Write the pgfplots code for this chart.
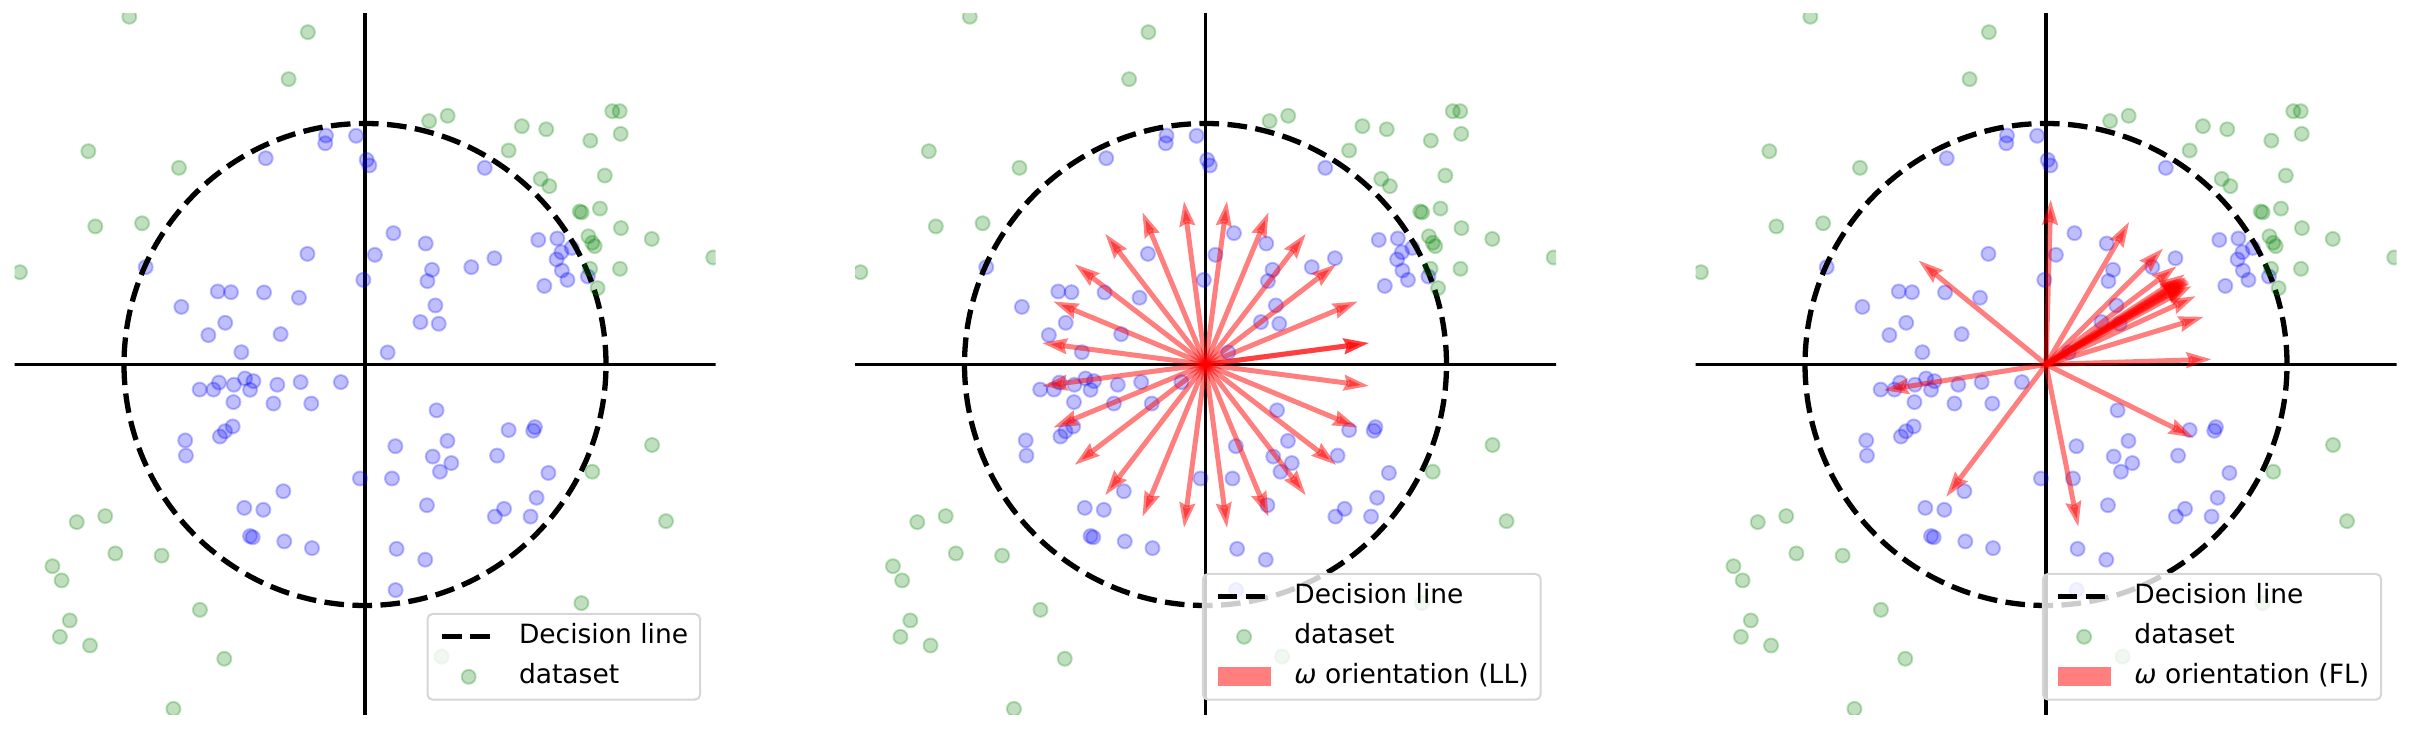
\documentclass[border=0pt]{standalone}
\usepackage{fontspec}
\setmainfont{DejaVu Sans}
\usepackage{pgfplots}
\usepackage{pgfplotstable}
\pgfplotsset{compat=1.18}
\usetikzlibrary{arrows.meta}
\definecolor{mblue}{RGB}{0,0,255}
\definecolor{mgreen}{RGB}{0,128,0}
\definecolor{mred}{RGB}{255,0,0}

\pgfplotstableread{
x y
-0.162 0.950
-0.165 0.918
-0.037 0.949
0.007 0.849
0.018 0.826
-0.412 0.856
-0.910 0.404
-0.239 0.459
-0.007 0.351
0.041 0.455
-0.611 0.303
-0.556 0.300
-0.419 0.299
-0.274 0.277
-0.762 0.239
-0.580 0.173
-0.650 0.122
-0.350 0.126
-0.513 0.051
0.497 0.816
0.118 0.545
0.252 0.502
0.719 0.517
0.798 0.523
0.858 0.484
0.815 0.466
0.795 0.436
0.537 0.441
0.441 0.404
0.278 0.393
0.259 0.346
0.817 0.390
0.840 0.351
0.744 0.326
0.925 0.365
0.292 0.245
0.230 0.176
0.306 0.169
0.094 0.050
-0.686 -0.104
-0.629 -0.104
-0.606 -0.075
-0.544 -0.084
-0.498 -0.058
-0.463 -0.069
-0.477 -0.105
-0.364 -0.084
-0.267 -0.073
-0.100 -0.073
-0.546 -0.156
-0.380 -0.162
-0.223 -0.162
-0.549 -0.257
-0.581 -0.277
-0.602 -0.299
-0.746 -0.315
-0.743 -0.378
-0.021 -0.473
-0.339 -0.526
-0.501 -0.595
-0.422 -0.603
-0.477 -0.712
-0.466 -0.717
-0.335 -0.734
-0.220 -0.762
0.297 -0.190
0.126 -0.339
0.342 -0.317
0.281 -0.382
0.358 -0.409
0.311 -0.445
0.112 -0.473
0.596 -0.272
0.705 -0.260
0.698 -0.275
0.548 -0.378
0.761 -0.450
0.712 -0.553
0.577 -0.599
0.539 -0.631
0.687 -0.631
0.257 -0.584
0.131 -0.765
0.250 -0.810
0.127 -0.936
}\bluedata

\pgfplotstableread{
x y
-0.978 1.443
-0.237 1.379
-0.317 1.184
-1.148 0.885
-0.772 0.816
-1.119 0.573
-0.925 0.586
-1.432 0.383
-1.46 0.102
0.266 1.010
0.343 1.032
0.651 0.989
0.752 0.976
1.026 1.051
1.057 1.051
1.061 0.957
0.935 0.929
0.596 0.888
0.995 0.784
0.729 0.770
0.765 0.740
0.891 0.635
0.899 0.631
0.975 0.647
1.062 0.566
1.190 0.521
0.927 0.532
0.943 0.505
0.953 0.491
1.445 0.444
0.934 0.397
1.058 0.397
0.965 0.317
-1.196 -0.654
-1.078 -0.629
-1.036 -0.784
-0.844 -0.793
-1.297 -0.837
-1.259 -0.896
-0.685 -1.018
-1.225 -1.062
-1.266 -1.130
-1.141 -1.166
-0.584 -1.221
-0.795 -1.429
1.191 -0.334
0.943 -0.445
1.46 -0.582
1.249 -0.650
0.898 -0.990
0.318 -1.212
0.436 -1.455
}\greendata

\pgfplotstableread{
x y u v
0 0 0.6791 0.0894
0 0 0.6791 0.0894
0 0 0.6329 0.2621
0 0 0.5434 0.4170
0 0 0.4170 0.5434
0 0 0.2621 0.6329
0 0 0.0894 0.6791
0 0 -0.0894 0.6791
0 0 -0.2621 0.6329
0 0 -0.4170 0.5434
0 0 -0.5434 0.4170
0 0 -0.6329 0.2621
0 0 -0.6791 0.0894
0 0 -0.6791 -0.0894
0 0 -0.6329 -0.2621
0 0 -0.5434 -0.4170
0 0 -0.4170 -0.5434
0 0 -0.2621 -0.6329
0 0 -0.0894 -0.6791
0 0 0.0894 -0.6791
0 0 0.2621 -0.6329
0 0 0.4170 -0.5434
0 0 0.5434 -0.4170
0 0 0.6329 -0.2621
0 0 0.6791 -0.0894
}\llarrows

\pgfplotstableread{
x y u v
0 0 0.0195 0.6855
0 0 0.3456 0.5925
0 0 0.4867 0.4822
0 0 0.5423 0.4087
0 0 0.5768 0.3743
0 0 0.5809 0.3630
0 0 0.5840 0.3579
0 0 0.5872 0.3528
0 0 0.5902 0.3476
0 0 0.5932 0.3425
0 0 0.5962 0.3373
0 0 0.6046 0.3257
0 0 0.6224 0.2842
0 0 0.6556 0.1983
0 0 0.6876 0.0216
0 0 0.6141 -0.3037
0 0 0.1340 -0.6743
0 0 -0.4149 -0.5498
0 0 -0.6751 -0.1071
0 0 -0.5299 0.4324
}\flarrows

\tikzset{
  dline/.style={black, line width=2.65pt, dash pattern=on 9.8pt off 4.24pt},
}

\pgfplotsset{
  panel/.style={
    width=350.5pt, height=350.5pt, scale only axis, anchor=center,
    xmin=-1.4544, xmax=1.4544, ymin=-1.4544, ymax=1.4544,
    hide axis, clip marker paths=true,
    legend cell align=left,
    legend style={
      at={(1,0)}, anchor=south east, xshift=-7.2pt, yshift=7.2pt,
      draw=black!16, line width=1pt, fill=white, fill opacity=0.8,
      text opacity=1, draw opacity=1,
      rounded corners=2.5pt, inner xsep=6pt, inner ysep=4.9pt,
      font=\fontsize{13.25pt}{15pt}\selectfont,
      row sep=7pt,
      nodes={inner sep=0pt, text height=9.8pt, text depth=3.2pt},
      /tikz/every odd column/.append style={column sep=10.6pt},
    },
  },
  arrowplot/.style={mred, opacity=0.5, line width=2.5pt,
    -{Stealth[length=12.5pt, width=7.5pt, inset=1.25pt]},
    quiver={u=\thisrow{u}, v=\thisrow{v}},
    legend image code/.code={\path[draw=none, fill=mred, fill opacity=0.5, sharp corners, line width=0pt, -] (0pt,-4.65pt) rectangle (26.5pt,4.65pt);}},
}

\newcommand{\panelbase}{%
  \addlegendimage{legend image code/.code={\draw[dline] (0pt,0pt) -- (26.5pt,0pt);}}
  \addlegendentry{Decision line}
  \addplot[forget plot, black, line width=1.6pt] coordinates {(-1.5,0) (1.5,0)};
  \addplot[forget plot, black, line width=1.6pt] coordinates {(0,-1.5) (0,1.5)};
  \addplot[forget plot, only marks, mark=*, mark size=3.5pt,
    mark options={draw=mblue, fill=mblue, opacity=0.25, line width=1pt}] table {\bluedata};
  \draw[dline] (axis cs:0,0) circle[radius=1];
  \addplot[only marks, mark=*, mark size=3.5pt,
    mark options={draw=mgreen, fill=mgreen, opacity=0.25, line width=1pt},
    legend image code/.code={\draw[mgreen, fill=mgreen, opacity=0.25, line width=1pt] (13.25pt,0pt) circle (3.5pt);}] table {\greendata};
  \addlegendentry{dataset}
}

\begin{document}
\begin{tikzpicture}
\path[use as bounding box] (0,0) rectangle (1206.5pt,366pt);
\begin{axis}[panel, at={(182.5pt,183.75pt)}]
\panelbase
\end{axis}
\begin{axis}[panel, at={(602.75pt,183.75pt)}]
\panelbase
\addplot[arrowplot] table {\llarrows};
\addlegendentry{\textit{ω} orientation (LL)}
\end{axis}
\begin{axis}[panel, at={(1023pt,183.75pt)}]
\panelbase
\addplot[arrowplot] table {\flarrows};
\addlegendentry{\textit{ω} orientation (FL)}
\end{axis}
\end{tikzpicture}
\end{document}
